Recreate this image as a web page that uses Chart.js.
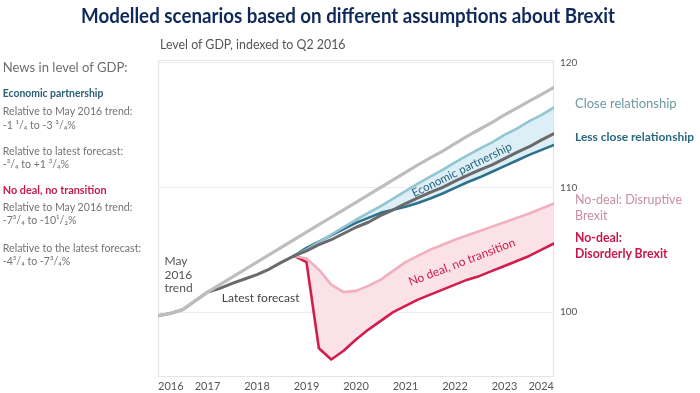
<!DOCTYPE html>
<html><head><meta charset="utf-8">
<script src="https://cdn.jsdelivr.net/npm/chart.js@4.4.1/dist/chart.umd.min.js"></script>
<style>
html,body{margin:0;padding:0;background:#fff;}
#wrap{position:relative;width:700px;height:393px;overflow:hidden;font-family:Lato,'Open Sans',sans-serif;}
canvas{position:absolute;left:0;top:0;}
.t{position:absolute;white-space:nowrap;line-height:1.2;}
.g{color:#737373;font-size:11.5px;}
#left{position:absolute;left:0;top:0;width:160px;height:300px;transform:scaleX(0.92);transform-origin:0 0;}
#title{position:absolute;top:2px;font-size:21px;font-weight:700;color:#10295a;white-space:nowrap;transform-origin:0 0;}
</style></head><body>
<div id="wrap">
<canvas id="c" width="700" height="393"></canvas>
<div id="title">Modelled scenarios based on different assumptions about Brexit</div>
<div class="t" style="left:160px;top:38px;font-size:12.4px;color:#555;">Level of GDP, indexed to Q2 2016</div>

<div id="left">
<div class="t" style="left:3px;top:58px;font-size:14.2px;color:#6e6e6e;">News in level of GDP:</div>
<div class="t" style="left:3px;top:86px;font-size:11.3px;font-weight:700;color:#2b5e73;">Economic partnership</div>
<div class="t g" style="left:3px;top:104px;">Relative to May 2016 trend:</div>
<div class="t g" style="left:3px;top:118px;">-1 ¹/₄ to -3 ³/₄%</div>
<div class="t g" style="left:3px;top:144px;">Relative to latest forecast:</div>
<div class="t g" style="left:3px;top:157px;">-³/₄ to +1 ³/₄%</div>
<div class="t" style="left:3px;top:183px;font-size:11.8px;font-weight:700;color:#c8194b;">No deal, no transition</div>
<div class="t g" style="left:3px;top:200px;">Relative to May 2016 trend:</div>
<div class="t g" style="left:3px;top:213px;">-7³/₄ to -10¹/₂%</div>
<div class="t g" style="left:3px;top:241px;">Relative to the latest forecast:</div>
<div class="t g" style="left:3px;top:254px;">-4³/₄ to -7³/₄%</div>
</div>

<div class="t" style="left:575px;top:96px;font-size:13px;color:#6d98a4;">Close relationship</div>
<div class="t" style="left:575px;top:130px;font-size:12px;font-weight:700;color:#2a6880;">Less close relationship</div>
<div class="t" style="left:575px;top:192px;font-size:12.5px;color:#c98e9d;line-height:16px;">No-deal: Disruptive<br>Brexit</div>
<div class="t" style="left:575px;top:230px;font-size:12.3px;font-weight:700;color:#c8174a;line-height:16px;">No-deal:<br>Disorderly Brexit</div>
</div>
<script>
const quarters=[2016,2016.25,2016.5,2016.75,2017,2017.25,2017.5,2017.75,2018,2018.25,2018.5,2018.75,2019,2019.25,2019.5,2019.75,2020,2020.25,2020.5,2020.75,2021,2021.25,2021.5,2021.75,2022,2022.25,2022.5,2022.75,2023,2023.25,2023.5,2023.75,2024];
const xTickYears=[2016,2017,2018,2019,2020,2021,2022,2023,2024];
const yTickValues=[100,110,120];
const may2016Trend=[99.7,99.9,100.2,100.9,101.6,102.2,102.8,103.4,104.0,104.6,105.2,105.8,106.4,107.0,107.6,108.2,108.8,109.4,110.0,110.6,111.2,111.8,112.35,112.9,113.5,114.1,114.65,115.2,115.8,116.35,116.9,117.45,118.0];
const latestForecast=[99.7,99.9,100.2,100.9,101.6,101.9,102.3,102.65,103.0,103.45,104.0,104.5,104.9,105.4,105.8,106.3,106.8,107.2,107.75,108.2,108.7,109.15,109.6,110.0,110.5,110.95,111.4,111.8,112.3,112.8,113.25,113.8,114.3];
const closeRelationship=[null,null,null,null,null,null,null,null,null,null,null,104.5,105.0,105.6,106.2,106.8,107.4,107.95,108.5,109.1,109.7,110.3,110.85,111.4,112.0,112.55,113.1,113.6,114.2,114.7,115.3,115.8,116.4];
const lessCloseRelationship=[null,null,null,null,null,null,null,null,null,null,null,104.5,105.15,105.65,106.15,106.65,107.15,107.55,107.95,108.2,108.45,108.75,109.1,109.5,109.95,110.4,110.8,111.25,111.7,112.15,112.6,113.0,113.4];
const disruptiveBrexit=[null,null,null,null,null,null,null,null,null,null,null,104.5,104.3,103.4,102.2,101.6,101.7,102.1,102.6,103.3,104.0,104.5,105.0,105.4,105.8,106.15,106.5,106.85,107.2,107.55,107.9,108.3,108.7];
const disorderlyBrexit=[null,null,null,null,null,null,null,null,null,null,null,104.5,104.0,97.1,96.2,96.9,97.8,98.6,99.3,100.0,100.5,101.0,101.4,101.8,102.2,102.6,102.9,103.3,103.7,104.1,104.5,105.0,105.5];

// fit title to the reference width, centred
(function(){
  const t=document.getElementById('title');
  const w=t.getBoundingClientRect().width;
  const target=534, s=target/w;
  t.style.transform='scaleX('+s+')';
  t.style.left=(348-target/2)+'px';
})();

const pts=arr=>quarters.map((q,i)=>({x:q,y:arr[i]}));
const FONT='Lato, "Open Sans", sans-serif';

const annotations={
  id:'annotations',
  beforeDatasetsDraw(chart){
    const a=chart.chartArea, c=chart.ctx;
    c.save();c.strokeStyle='#e4e4e4';c.lineWidth=1;
    c.strokeRect(a.left+0.5,a.top+0.5,a.right-a.left-1,a.bottom-a.top-1);
    c.restore();
  },
  afterDatasetsDraw(chart){
    const c=chart.ctx,x=chart.scales.x,y=chart.scales.y;
    c.save();
    c.textBaseline='middle';c.textAlign='left';
    c.font='12px '+FONT;c.fillStyle='#555';
    const tx=x.getPixelForValue(2016.13);
    c.fillText('May',tx,y.getPixelForValue(104.1));
    c.fillText('2016',tx,y.getPixelForValue(103.0));
    c.fillText('trend',tx,y.getPixelForValue(101.9));
    c.fillStyle='#444';
    c.fillText('Latest forecast',x.getPixelForValue(2017.29),y.getPixelForValue(101.1));
    c.textAlign='center';
    c.save();
    c.translate(x.getPixelForValue(2022.14),y.getPixelForValue(111.4));
    c.rotate(-26*Math.PI/180);
    c.font='11.5px '+FONT;c.fillStyle='#27627a';
    c.fillText('Economic partnership',0,0);
    c.restore();
    c.save();
    c.translate(x.getPixelForValue(2022.14),y.getPixelForValue(104.0));
    c.rotate(-21*Math.PI/180);
    c.font='12px '+FONT;c.fillStyle='#d01c4b';
    c.fillText('No deal, no transition',0,0);
    c.restore();
    c.restore();
  }
};

new Chart(document.getElementById('c'),{
  type:'line',
  data:{datasets:[
    {label:'May 2016 trend',data:pts(may2016Trend),borderColor:'#bdbdbd',borderWidth:3.2,fill:false},
    {label:'Latest forecast',data:pts(latestForecast),borderColor:'#6a6a6a',borderWidth:3,fill:false},
    {label:'Close relationship',data:pts(closeRelationship),borderColor:'#93c5d2',borderWidth:2.6,fill:{target:3},backgroundColor:'#dceef6'},
    {label:'Less close relationship',data:pts(lessCloseRelationship),borderColor:'#2e7089',borderWidth:2.6,fill:false},
    {label:'No-deal: Disruptive Brexit',data:pts(disruptiveBrexit),borderColor:'#f0b0c0',borderWidth:2.6,fill:{target:5},backgroundColor:'#fbe2e8'},
    {label:'No-deal: Disorderly Brexit',data:pts(disorderlyBrexit),borderColor:'#d21d4d',borderWidth:2.6,fill:false}
  ]},
  options:{
    responsive:false,animation:false,devicePixelRatio:1,
    layout:{padding:{left:158,top:60,right:0,bottom:0}},
    plugins:{legend:{display:false},tooltip:{enabled:false},filler:{drawTime:'beforeDatasetsDraw'}},
    elements:{point:{radius:0},line:{tension:0,borderJoinStyle:'round',borderCapStyle:'round'}},
    scales:{
      x:{type:'linear',min:2016,max:2024,
        grid:{display:false,drawTicks:false},border:{display:false},
        afterBuildTicks:s=>{s.ticks=xTickYears.map(v=>({value:v}));},
        ticks:{align:'inner',padding:3,color:'#555',font:{size:11,family:FONT},maxRotation:0,autoSkip:false,callback:v=>String(v)},
        afterFit:s=>{s.height=16;}},
      y:{position:'right',min:94.8,max:120.2,
        grid:{color:'#ededed',drawTicks:false},border:{display:false},
        afterBuildTicks:s=>{s.ticks=yTickValues.map(v=>({value:v}));},
        ticks:{padding:6,color:'#555',font:{size:10,family:FONT},callback:v=>String(v)},
        afterFit:s=>{s.width=146;}}
    }
  },
  plugins:[annotations]
});
</script>
</body></html>
